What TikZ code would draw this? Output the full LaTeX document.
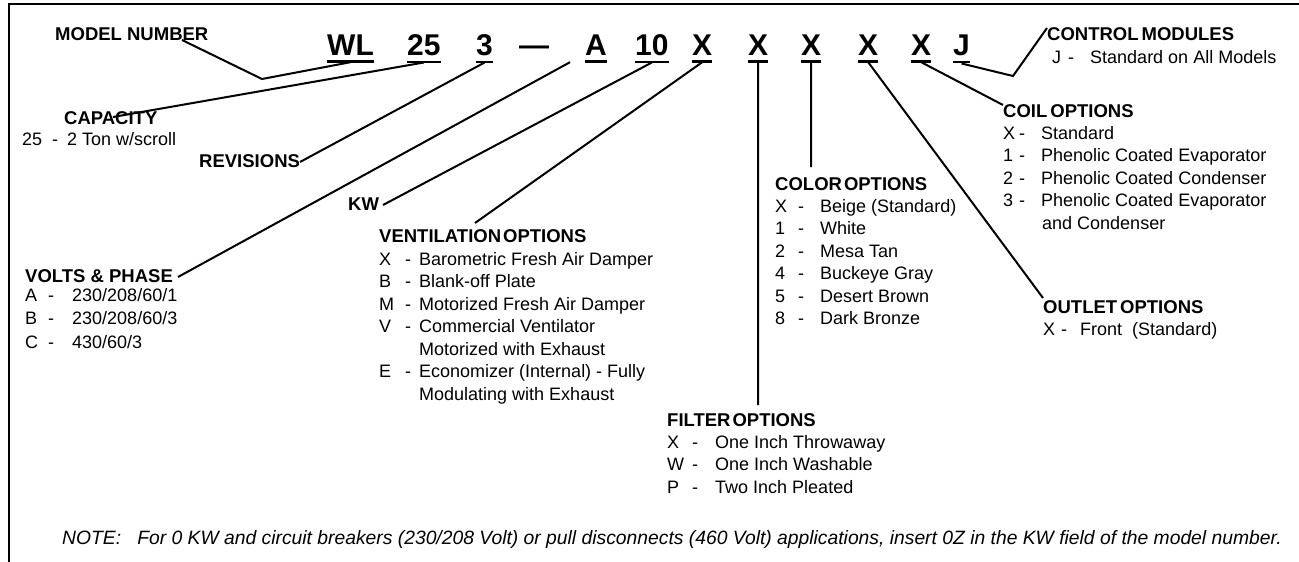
\documentclass[tikz,border=0pt]{standalone}
\usepackage{fontspec}
\setmainfont{Liberation Sans}
\usetikzlibrary{calc}
\tikzset{
  code/.style={font=\fontsize{30}{30}\selectfont\bfseries, inner sep=0pt, anchor=base west},
  head/.style={font=\fontsize{18.5}{22.5}\selectfont\bfseries, inner sep=0pt, anchor=base west},
  list/.style={font=\fontsize{18}{22.5}\selectfont, inner sep=0pt, anchor=base west},
  vlist/.style={font=\fontsize{18}{23.5}\selectfont, inner sep=0pt, anchor=base west},
  note/.style={font=\fontsize{19.3}{22}\selectfont\itshape, inner sep=0pt, anchor=base west},
  conn/.style={line width=2pt},
  uline/.style={line width=2.5pt},
  frameline/.style={line width=2.5pt}
}
\newcommand\ul[1]{\draw[uline] ([yshift=-6.5pt]#1.south west) -- ([yshift=-6.5pt]#1.south east);}
\begin{document}
\begin{tikzpicture}[x=1pt,y=-1pt]
\useasboundingbox (0,0) rectangle (1299,562);
% frame
\draw[frameline] (9,562) -- (9,4) -- (1299,4);

% model code
\node[code] (cWL) at (327,55) {WL};
\node[code] (c25) at (407,55) {25};
\node[code] (c3)  at (476,55) {3};
\node[code] (cdash) at (519,55) {---};
\node[code] (cA)  at (585,55) {A};
\node[code] (c10) at (635,55) {10};
\node[code] (cX1) at (692,55) {X};
\node[code] (cX2) at (748,55) {X};
\node[code] (cX3) at (801,55) {X};
\node[code] (cX4) at (858,55) {X};
\node[code] (cX5) at (911,55) {X};
\node[code] (cJ)  at (953,55) {J};
\ul{cWL}\ul{c25}\ul{c3}\ul{cA}\ul{c10}\ul{cX1}\ul{cX2}\ul{cX3}\ul{cX4}\ul{cX5}\ul{cJ}

% headings and lists
\node[head] (mn) at (55,40) {MODEL NUMBER};

\node[head] (cap) at (64,124) {CAPACITY};
\node[list] (capl) at (22,145) {\begin{tabular}[t]{@{}p{30pt}@{}p{15pt}@{}l@{}}25&-&2 Ton w/scroll\end{tabular}};

\node[head] (rev) at (199,167) {REVISIONS};
\node[head] (kw) at (348,210) {KW};

\node[head] (vp) at (25,282) {VOLTS \& PHASE};
\node[vlist] (vpl) at (25,301) {\begin{tabular}[t]{@{}p{23pt}@{}p{24pt}@{}l@{}}
A&-&230/208/60/1\\ B&-&230/208/60/3\\ C&-&430/60/3\end{tabular}};

\node[head] (vent) at (379,242) {VENTILATION\hspace{2pt}OPTIONS};
\node[list] (ventl) at (379,265) {\begin{tabular}[t]{@{}p{26pt}@{}p{14pt}@{}l@{}}
X&-&Barometric Fresh Air Damper\\
B&-&Blank-off Plate\\
M&-&Motorized Fresh Air Damper\\
V&-&Commercial Ventilator\\
&&Motorized with Exhaust\\
E&-&Economizer (Internal) - Fully\\
&&Modulating with Exhaust\end{tabular}};

\node[head] (color) at (775,190) {COLOR\hspace{2pt}OPTIONS};
\node[list] (colorl) at (775,212) {\begin{tabular}[t]{@{}p{23pt}@{}p{22pt}@{}l@{}}
X&-&Beige (Standard)\\ 1&-&White\\ 2&-&Mesa Tan\\ 4&-&Buckeye Gray\\ 5&-&Desert Brown\\ 8&-&Dark Bronze\end{tabular}};

\node[head] (filt) at (667,426) {FILTER\hspace{2pt}OPTIONS};
\node[list] (filtl) at (667,448) {\begin{tabular}[t]{@{}p{25pt}@{}p{23pt}@{}l@{}}
X&-&One Inch Throwaway\\ W&-&One Inch Washable\\ P&-&Two Inch Pleated\end{tabular}};

\node[head] (coil) at (1003,117) {COIL\hspace{3pt}OPTIONS};
\node[list] (coill) at (1003,139) {\begin{tabular}[t]{@{}p{16pt}@{}p{22pt}@{}l@{}}
X&-&Standard\\ 1&-&Phenolic Coated Evaporator\\ 2&-&Phenolic Coated Condenser\\
3&-&Phenolic Coated Evaporator\\ &&\hspace{1pt}and Condenser\end{tabular}};

\node[head] (ctrl) at (1047,40) {CONTROL\hspace{3pt}MODULES};
\node[list] (ctrll) at (1052,63) {\begin{tabular}[t]{@{}p{16pt}@{}p{22pt}@{}l@{}}
J&-&Standard on All Models\end{tabular}};

\node[head] (outl) at (1043,313) {OUTLET\hspace{3pt}OPTIONS};
\node[list] (outll) at (1043,335) {\begin{tabular}[t]{@{}p{18pt}@{}p{19pt}@{}l@{}}
X&-&Front\ \ (Standard)\end{tabular}};

\node[note] (nt) at (62,544) {NOTE:\ \ \ For 0 KW and circuit breakers (230/208 Volt) or pull disconnects (460 Volt) applications, insert 0Z in the KW field of the model number.};

% connector ends
\coordinate (mnA) at (182,40);
\coordinate (mnB) at (262,79);
\coordinate (capE) at (113,117);
\coordinate (revE) at (300,162);
\coordinate (vpE) at (178,277);
\coordinate (kwE) at (383,205);
\coordinate (ventE) at (475,223);
\coordinate (filtE) at (758,405);
\coordinate (colorE) at (811,167);
\coordinate (outlE) at (1043,298);
\coordinate (coilE) at (1003,105);
\coordinate (ctrlB) at (1013,76);
\coordinate (ctrlE) at (1047,28);

\draw[conn] (mnA) -- (mnB) -- ([yshift=-7pt]cWL.south);
\draw[conn] (capE) -- ([yshift=-7pt]c25.south);
\draw[conn] (revE) -- ([yshift=-7pt]c3.south);
\draw[conn] (vpE) -- ([xshift=-15pt,yshift=-7pt]cA.south west);
\draw[conn] (kwE) -- ([yshift=-7pt]c10.south);
\draw[conn] (ventE) -- ([yshift=-7pt]cX1.south);
\draw[conn] ([yshift=-7pt]cX2.south) -- (filtE);
\draw[conn] ([yshift=-7pt]cX3.south) -- (colorE);
\draw[conn] ([yshift=-7pt]cX4.south) -- (outlE);
\draw[conn] ([yshift=-7pt]cX5.south) -- (coilE);
\draw[conn] ([yshift=-8pt]cJ.south) -- (ctrlB) -- (ctrlE);
\end{tikzpicture}
\end{document}
